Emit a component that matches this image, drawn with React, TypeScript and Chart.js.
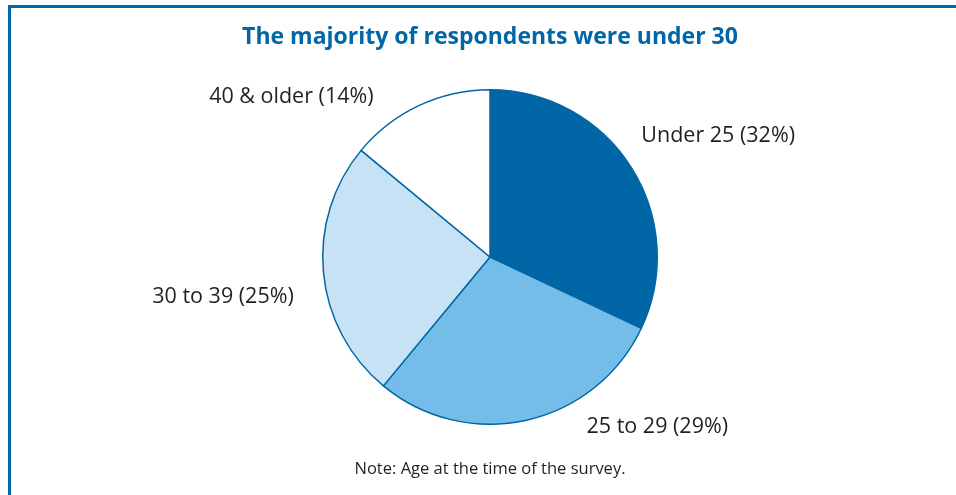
import React, { useEffect, useRef } from "react";
import { Chart, registerables } from "chart.js";

Chart.register(...registerables);

const categories = ["Under 25", "25 to 29", "30 to 39", "40 & older"];
const shares = [32, 29, 25, 14];
const sliceColors = ["#0066a6", "#74bde8", "#c7e2f5", "#ffffff"];
// label anchor offsets, in units of the pie radius, from the pie centre
const labelOffsets = [
  { dx: 0.905, dy: -0.726, align: "left" },
  { dx: 0.577, dy: 1.018, align: "left" },
  { dx: -1.173, dy: 0.238, align: "right" },
  { dx: -0.696, dy: -0.958, align: "right" },
];
const titleText = "The majority of respondents were under 30";
const noteText = "Note: Age at the time of the survey.";

const FONT = "'Open Sans', 'Noto Sans', sans-serif";

const sliceLabels = {
  id: "sliceLabels",
  afterDatasetsDraw(chart: any) {
    const ctx = chart.ctx;
    const meta = chart.getDatasetMeta(0);
    ctx.save();
    ctx.font = `21.5px ${FONT}`;
    ctx.fillStyle = "#231f20";
    ctx.textBaseline = "middle";
    meta.data.forEach((arc: any, i: number) => {
      const off = labelOffsets[i];
      const R = arc.outerRadius;
      ctx.textAlign = off.align;
      ctx.fillText(
        `${categories[i]} (${shares[i]}%)`,
        arc.x + off.dx * R,
        arc.y + off.dy * R
      );
    });
    ctx.restore();
  },
};

export default function App() {
  const ref = useRef<HTMLCanvasElement>(null);
  useEffect(() => {
    document.body.style.margin = "0";
    const chart = new Chart(ref.current as HTMLCanvasElement, {
      type: "pie",
      data: {
        labels: categories,
        datasets: [
          {
            data: shares,
            backgroundColor: sliceColors,
            borderColor: "#0066a6",
            borderWidth: 1.5,
          },
        ],
      },
      options: {
        animation: false,
        responsive: false,
        layout: { padding: { top: 0, left: 24, right: 0, bottom: 0 } },
        plugins: {
          legend: { display: false },
          tooltip: { enabled: false },
          title: {
            display: true,
            text: titleText,
            color: "#0066a6",
            font: { family: FONT, size: 23, weight: "bold", lineHeight: 1.2 },
            padding: { top: 23.2, bottom: 38.2 },
          },
          subtitle: {
            display: true,
            position: "bottom",
            text: noteText,
            color: "#231f20",
            font: { family: FONT, size: 16.5, weight: "normal", lineHeight: 1.2 },
            padding: { top: 34.1, bottom: 16.1 },
          },
        },
      } as any,
      plugins: [sliceLabels],
    });
    return () => chart.destroy();
  }, []);

  return (
    <div style={{ position: "relative", width: 956, height: 495, background: "#fff" }}>
      <canvas ref={ref} width={956} height={495} style={{ position: "absolute", left: 0, top: 0 }} />
      <div style={{ position: "absolute", left: 8, top: 5, width: 948, height: 3, background: "#0066a6" }} />
      <div style={{ position: "absolute", left: 8, top: 5, width: 3, height: 490, background: "#0066a6" }} />
    </div>
  );
}
